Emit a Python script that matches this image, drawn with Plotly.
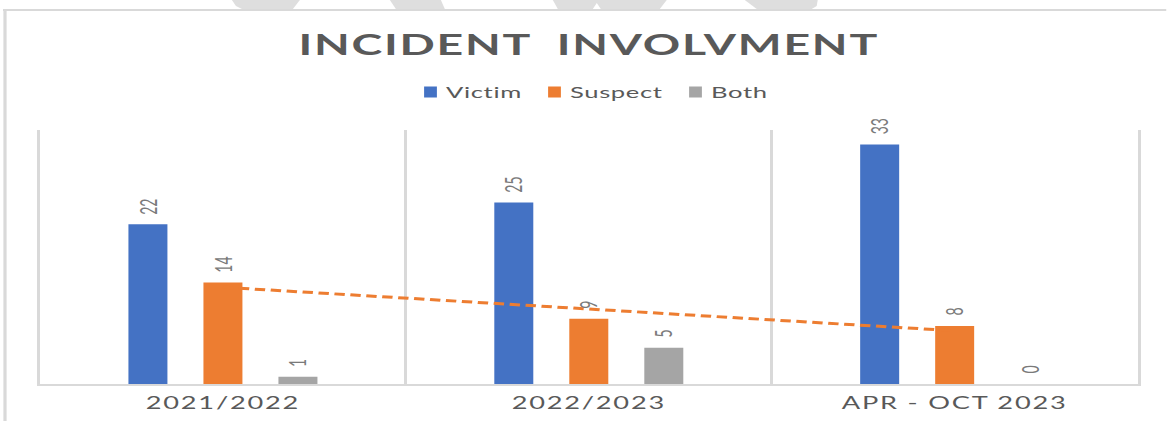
import numpy as np
import plotly.graph_objects as go

# ---- data ----
categories = ["2021/2022", "2022/2023", "APR - OCT 2023"]
series_names = ["Victim", "Suspect", "Both"]
victim = [22, 25, 33]
suspect = [14, 9, 8]
both = [1, 5, 0]
title_text = "INCIDENT  INVOLVMENT"

# ---- styling ----
S = 1.6                      # horizontal stretch of the reference picture
W_OUT, H = 1167, 421
W = W_OUT / S
colors = ["#4472C4", "#ED7D31", "#A5A5A5"]
TXT = "#595959"
LBL = "#7A7A7A"
LINE = "#D9D9D9"
FONT = "Lato"
BARGAP, GROUPGAP = 0.385, 0.48

# plot area in reference pixels
PL, PR, PT, PB = 40, 1138, 130, 384
ml, mr = PL / S, (W_OUT - PR) / S
mt, mb = PT, H - PB
pw = (PR - PL) / S
ph = PB - PT


def px(x):
    return (x / S - ml) / pw


def py(y):
    return (PB - y) / ph


fig = go.Figure()
series = [victim, suspect, both]
for name, vals, col in zip(series_names, series, colors):
    fig.add_trace(go.Bar(
        name=name, x=categories, y=vals, marker=dict(color=col, line=dict(width=0)),
        cliponaxis=False,
    ))

# value labels (rotated), placed above each bar of the group
slot = pw / len(categories) * (1 - BARGAP) / len(series)
annotations = []
for si, vals in enumerate(series):
    for cat, v in zip(categories, vals):
        annotations.append(dict(
            x=cat, y=v, xref="x", yref="y", text=str(v), showarrow=False,
            textangle=-90, yanchor="bottom", xanchor="center",
            xshift=(si - (len(series) - 1) / 2) * slot, yshift=8,
            font=dict(family=FONT, size=14, color=LBL),
        ))

# linear trendline of Suspect
idx = np.arange(len(categories))
k, b = np.polyfit(idx, suspect, 1)
trend = k * idx + b
fig.add_trace(go.Scatter(
    x=categories, y=trend, mode="lines", showlegend=False, hoverinfo="skip",
    line=dict(color=colors[1], width=3, dash="6.5px,3.5px"),
))

shapes = []
# outer chart frame (top + left)
shapes.append(dict(type="line", xref="paper", yref="paper", x0=px(3), x1=px(1167), y0=py(10), y1=py(10),
                   line=dict(color=LINE, width=2), layer="above"))
shapes.append(dict(type="line", xref="paper", yref="paper", x0=px(5), x1=px(5), y0=py(10), y1=py(421),
                   line=dict(color=LINE, width=2), layer="above"))

# watermark fragments at the top edge
wm = [
    [(232, 0), (300, 0), (293, 9), (242, 9), (236, 6)],
    [(390, 0), (441, 0), (445, 9), (396, 9)],
    [(553, 0), (667, 0), (660, 9), (601, 9), (597, 3), (593, 9), (558, 9)],
    [(745, 0), (818, 0), (817, 6), (812, 9), (757, 9)],
]
for poly in wm:
    path = "M " + " L ".join(f"{px(x):.5f},{py(y):.5f}" for x, y in poly) + " Z"
    shapes.append(dict(type="path", xref="paper", yref="paper", path=path,
                       fillcolor="#DEDEDE", line=dict(width=0), layer="below"))

fig.update_layout(
    width=W, height=H,
    margin=dict(l=ml, r=mr, t=mt, b=mb, pad=0, autoexpand=False),
    paper_bgcolor="white", plot_bgcolor="white",
    barmode="group", bargap=BARGAP, bargroupgap=GROUPGAP,
    title=dict(text=title_text, x=0.5, xanchor="center", xref="paper",
               y=1 - 45 / H, yanchor="middle",
               font=dict(family=FONT, size=29, color=TXT, weight="bold")),
    legend=dict(orientation="h", x=0.5, xanchor="center", y=py(92), yanchor="middle",
                font=dict(family=FONT, size=16, color=TXT), traceorder="normal",
                itemwidth=30, bgcolor="rgba(0,0,0,0)"),
    xaxis=dict(type="category", tickson="boundaries", showgrid=True, gridcolor=LINE, gridwidth=2,
               showline=True, linecolor=LINE, linewidth=2, ticks="", automargin=False,
               tickfont=dict(family=FONT, size=17, color=TXT), ticklabelstandoff=3,
               fixedrange=True),
    yaxis=dict(range=[0, 35], showticklabels=False, showgrid=False, zeroline=False,
               showline=True, linecolor=LINE, linewidth=2, mirror=True, ticks="",
               automargin=False, fixedrange=True),
    shapes=shapes,
    annotations=annotations,
    showlegend=True,
)

post = f"""
try {{
document.body.style.margin='0';
document.body.style.overflow='hidden';
var S={S};
var gd=document.querySelector('.plotly-graph-div');
gd.style.transformOrigin='0 0';
gd.style.transform='scaleX('+S+')';
document.querySelectorAll('.gtitle').forEach(function(t){{t.style.letterSpacing='1.1px';}});
document.querySelectorAll('.xtick text').forEach(function(t){{t.style.letterSpacing='1.1px';}});
var targets=[446,570,711];
var items=document.querySelectorAll('.legend .traces');
items.forEach(function(g,i){{
  var txt=g.querySelector('.legendtext');
  txt.style.letterSpacing='0.4px';
  var r=txt.getBoundingClientRect();
  var dx=(targets[i]-r.left)/S;
  var tr=g.getAttribute('transform')||'';
  var m=/translate\\(\\s*([-\\d.e]+)[\\s,]+([-\\d.e]+)\\s*\\)/.exec(tr);
  if(m){{ g.setAttribute('transform','translate('+(parseFloat(m[1])+dx)+','+m[2]+')'); }}
  var p=g.querySelector('path.legendbar')||g.querySelector('.legendpoints path');
  if(p){{
    p.setAttribute('d','M4,5.5H-4V-5.5H4Z');
    var pr=p.getBoundingClientRect();
    var r2=txt.getBoundingClientRect();
    var want=r2.left-22+6.5;
    var cur=(pr.left+pr.right)/2;
    var o=(want-cur)/S;
    p.setAttribute('d','M'+(4+o)+',5.5H'+(-4+o)+'V-5.5H'+(4+o)+'Z');
  }}
}});
}} catch(e) {{ console.log(e); }}
"""
fig.write_html("out.html", post_script=post, config=dict(displayModeBar=False))
